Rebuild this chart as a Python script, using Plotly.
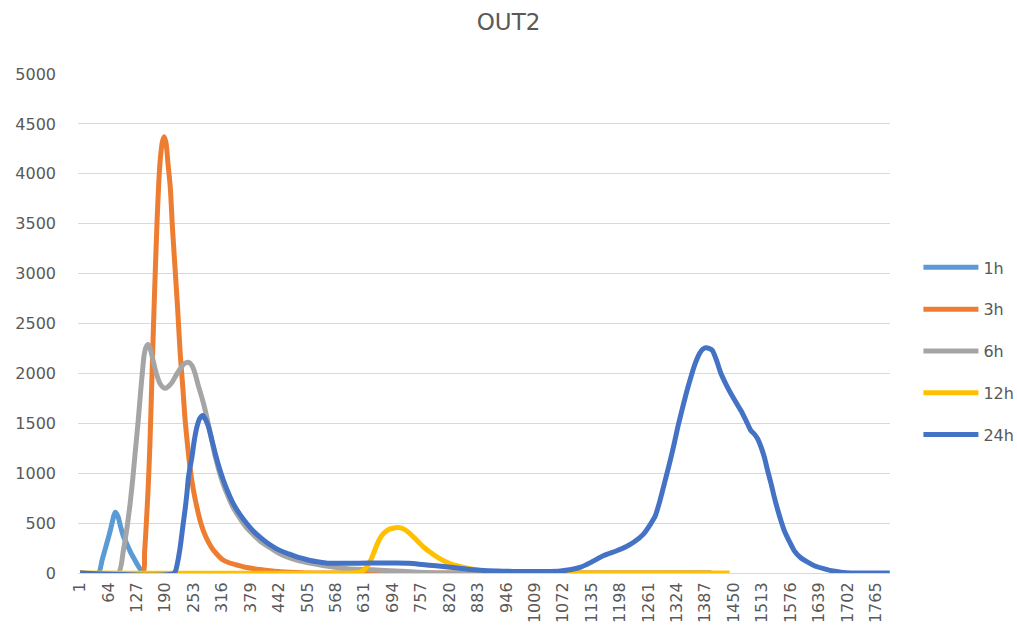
import plotly.graph_objects as go

# ---- data (category index on x, value on y) ----
N_CATEGORIES = 1796
tick_step = 63

h1_x = [1, 42, 50, 58, 66, 72, 76, 79, 82, 86, 90, 97, 105, 113, 122, 130, 138, 142, 1400]
h1_y = [0, 0, 130, 260, 390, 500, 575, 609, 595, 555, 480, 370, 290, 210, 135, 70, 15, 0, 0]

h3_x = [1, 140, 144, 148, 152, 156, 160, 164, 168, 172, 176, 180, 184, 188, 192, 196, 201,
        206, 212, 218, 223, 229, 234, 240, 245, 252, 260, 270, 280, 292, 304, 318, 333,
        349, 370, 400, 440, 480, 520, 1400]
h3_y = [0, 0, 200, 500, 850, 1300, 1900, 2500, 3050, 3550, 3950, 4200, 4330, 4370, 4300,
        4100, 3870, 3450, 3030, 2600, 2200, 1850, 1530, 1250, 1050, 840, 660, 480, 360,
        260, 190, 130, 100, 80, 55, 35, 15, 6, 0, 0]

h6_x = [1, 86, 97, 105, 112, 118, 123, 130, 135, 139, 143, 147, 152, 157, 163, 170, 178,
        185, 190, 197, 205, 215, 225, 233, 241, 249, 256, 263, 271, 278, 285, 292, 300,
        310, 320, 330, 340, 355, 370, 385, 400, 420, 437, 460, 485, 510, 540, 570, 600,
        650, 700, 750, 800, 1400]
h6_y = [0, 0, 225, 450, 693, 950, 1194, 1528, 1800, 2000, 2180, 2260, 2290, 2240, 2130,
        2000, 1900, 1860, 1850, 1870, 1910, 1990, 2060, 2100, 2112, 2080, 2000, 1880, 1760,
        1640, 1500, 1350, 1180, 1010, 870, 760, 660, 550, 455, 385, 320, 260, 210, 160,
        125, 100, 75, 55, 40, 32, 20, 8, 0, 0]

h12_x = [1, 600, 622, 635, 645, 652, 660, 670, 682, 694, 707, 720, 733, 748, 763, 778, 793,
         808, 822, 840, 859, 885, 911, 940, 970, 1441]
h12_y = [0, 0, 8, 50, 125, 200, 292, 375, 428, 448, 455, 437, 393, 325, 258, 205, 158,
         120, 92, 68, 48, 28, 15, 6, 0, 0]

h24_x = [1, 210, 216, 223, 229, 234, 238, 241, 245, 249, 254, 260, 266, 273, 279, 286, 293,
         301, 310, 319, 330, 341, 355, 371, 385, 400, 418, 437, 455, 474, 492, 511, 530,
         549, 580, 620, 660, 700, 730, 760, 790, 822, 860, 896, 940, 985, 1030, 1066, 1090,
         1111, 1135, 1162, 1192, 1210, 1229, 1250, 1266, 1276, 1285, 1292, 1300, 1309, 1318,
         1327, 1337, 1346, 1355, 1364, 1374, 1381, 1388, 1395, 1403, 1412, 1422, 1433, 1444,
         1455, 1466, 1477, 1488, 1496, 1503, 1510, 1518, 1525, 1533, 1540, 1548, 1555, 1562,
         1573, 1584, 1598, 1614, 1630, 1651, 1670, 1688, 1710, 1796]
h24_y = [0, 0, 80, 258, 470, 640, 800, 950, 1060, 1160, 1320, 1461, 1545, 1578, 1540, 1461,
         1340, 1194, 1050, 927, 800, 693, 590, 493, 420, 359, 295, 242, 205, 175, 148, 125,
         110, 98, 97, 98, 100, 100, 98, 85, 72, 58, 38, 25, 18, 15, 15, 20, 35, 58, 110,
         175, 225, 260, 310, 390, 493, 570, 700, 820, 960, 1120, 1294, 1480, 1661, 1820,
         1962, 2090, 2196, 2240, 2256, 2250, 2229, 2130, 1996, 1890, 1796, 1710, 1628, 1530,
         1428, 1390, 1345, 1270, 1160, 1030, 894, 760, 626, 520, 426, 320, 225, 155, 108,
         70, 42, 20, 8, 0, 0]

series_names = ["1h", "3h", "6h", "12h", "24h"]
series_x = [h1_x, h3_x, h6_x, h12_x, h24_x]
series_y = [h1_y, h3_y, h6_y, h12_y, h24_y]
series_colors = ["#5B9BD5", "#ED7D31", "#A5A5A5", "#FFC000", "#4472C4"]

tick_vals = list(range(1, N_CATEGORIES + 1, tick_step))
tick_text = [str(v) for v in tick_vals]

FONT = "DejaVu Sans"
GREY = "#595959"

fig = go.Figure()
for name, xs, ys, col in zip(series_names, series_x, series_y, series_colors):
    assert len(xs) == len(ys), name
    fig.add_trace(go.Scatter(
        x=xs, y=ys, name=name, mode="lines", legendgroup=name,
        line=dict(color=col, width=5, shape="spline", smoothing=0.6),
    ))

fig.update_layout(
    width=1017, height=632,
    margin=dict(l=78, r=127, t=74, b=59, autoexpand=False),
    plot_bgcolor="white", paper_bgcolor="white",
    font=dict(family=FONT, color=GREY, size=16),
    title=dict(text="OUT2", x=0.5, xref="container", xanchor="center",
               y=1 - 22 / 632, yref="container", yanchor="middle",
               font=dict(family=FONT, size=23, color=GREY)),
    showlegend=True,
    legend=dict(x=1.0350, xanchor="left", y=0.445, yanchor="middle",
                font=dict(family=FONT, size=16, color=GREY),
                tracegroupgap=18, itemwidth=55, bgcolor="rgba(0,0,0,0)"),
    xaxis=dict(range=[-3.5, N_CATEGORIES + 0.5], tickmode="array", tickvals=tick_vals,
               ticktext=tick_text, tickangle=-90, showgrid=False, zeroline=False,
               showline=True, linecolor="#D9D9D9", linewidth=1, ticks="", automargin=False,
               tickfont=dict(family=FONT, size=16, color=GREY), ticklabelstandoff=2),
    yaxis=dict(range=[0, 5000], dtick=500, showgrid=True, gridcolor="#D9D9D9", gridwidth=1,
               zeroline=False, showline=False, ticks="", automargin=False,
               tickfont=dict(family=FONT, size=16, color=GREY), ticklabelstandoff=21),
)

fig.write_html("out.html", config={"displayModeBar": False},
               post_script="document.body.style.margin='0';document.body.style.overflow='hidden';")
